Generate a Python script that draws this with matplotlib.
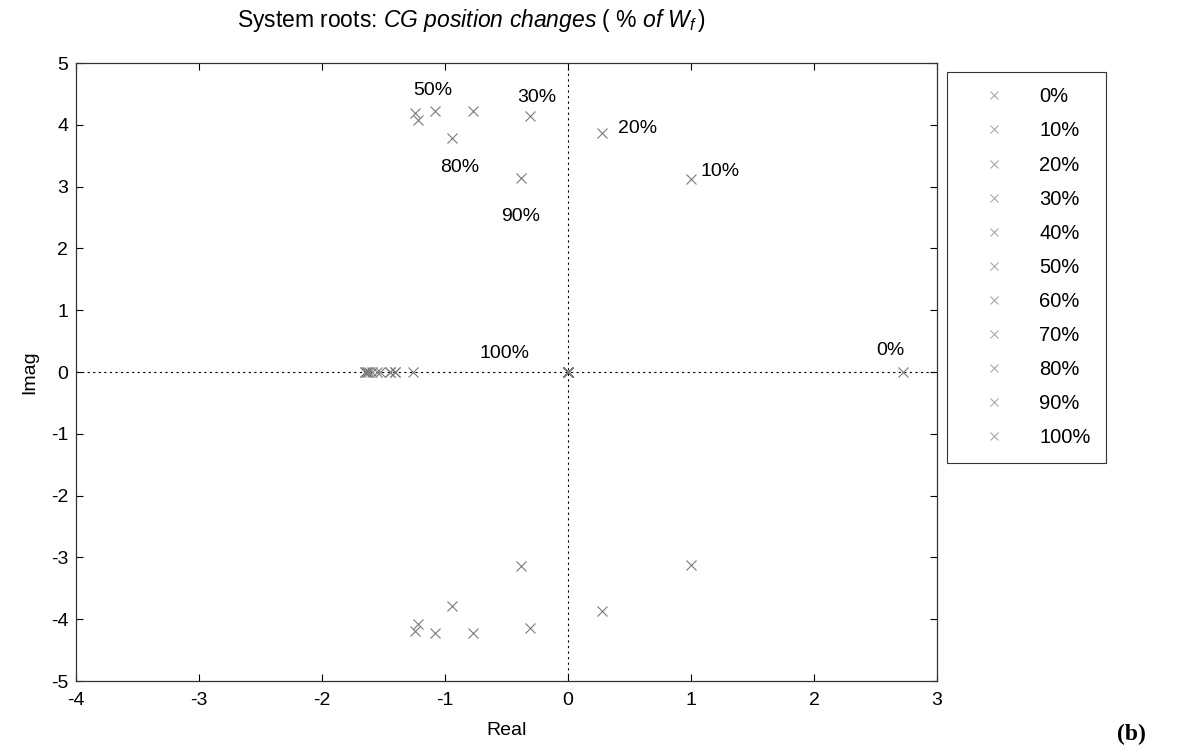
import numpy as np
import matplotlib.pyplot as plt

plt.rcParams['font.family'] = ['Liberation Sans', 'DejaVu Sans']
plt.rcParams['mathtext.fontset'] = 'custom'
plt.rcParams['mathtext.rm'] = 'Liberation Sans'
plt.rcParams['mathtext.it'] = 'Liberation Sans:italic'
plt.rcParams['axes.unicode_minus'] = False

# CG position (% of Wf) and the system roots found for each case
cg_pct = [0, 10, 20, 30, 40, 50, 60, 70, 80, 90, 100]
pair_re = [None, 1.00, 0.28, -0.31, -0.77, -1.08, -1.24, -1.22, -0.94, -0.38, None]
pair_im = [None, 3.13, 3.86, 4.14, 4.22, 4.22, 4.19, 4.08, 3.79, 3.14, None]
zero_root = [0.0] * 11
neg_root = [-1.26, -1.41, -1.45, -1.53, -1.59, -1.63, -1.65, -1.62, -1.55, -1.45, -1.41]
extra_real = {0: [2.72, -1.65], 100: [0.0, -1.63]}

# text offsets (pixels) for the annotated cases
label_off = {0: (-12, 22), 10: (29, 7), 20: (35, 5), 30: (7, 19),
             50: (-2, 21), 80: (7, -30), 90: (-1, -39), 100: (-63, 19)}

fig = plt.figure(figsize=(11.85, 7.53), dpi=100)
ax = fig.add_axes([0.0641, 0.0956, 0.7266, 0.8207])

ax.axhline(0, color='black', linestyle=(0, (2, 3)), linewidth=0.8)
ax.axvline(0, color='black', linestyle=(0, (2, 3)), linewidth=0.8)

for i, p in enumerate(cg_pct):
    if pair_re[i] is not None:
        roots = [complex(pair_re[i], pair_im[i]), complex(pair_re[i], -pair_im[i])]
    else:
        roots = [complex(r, 0) for r in extra_real[p]]
    roots += [complex(zero_root[i], 0), complex(neg_root[i], 0)]
    roots = np.array(roots)
    ax.plot(roots.real, roots.imag, linestyle='none', marker='x', markersize=7,
            markeredgewidth=0.8, color='#7a7a7a', label=f'{p}%')
    if p in label_off:
        anchor = roots[0]
        if p == 100:
            anchor = complex(zero_root[i], 0)
        ax.annotate(f'{p}%', (anchor.real, anchor.imag), xytext=label_off[p],
                    textcoords='offset pixels', ha='center', va='center', fontsize=14)

ax.set_xlim(-4, 3)
ax.set_ylim(-5, 5)
ax.set_xticks(range(-4, 4))
ax.set_yticks(range(-5, 6))
ax.tick_params(direction='in', top=True, right=True, labelsize=14, length=5, width=0.8)
ax.tick_params(axis='x', pad=8)
ax.tick_params(axis='y', pad=5.5)
for s in ax.spines.values():
    s.set_linewidth(0.9)
    s.set_color('#333333')
ax.set_xlabel('Real', fontsize=14, labelpad=9)
ax.set_ylabel('Imag', fontsize=14, labelpad=9)

fig.text(0.398, 0.973, r'System roots: $\mathit{CG\ position\ changes\ (\ \%\ of\ W_f\,)}$',
         ha='center', va='center', fontsize=16.5)

leg = ax.legend(loc='upper left', bbox_to_anchor=(0.799, 0.904), bbox_transform=fig.transFigure,
                borderaxespad=0, fontsize=14.5, frameon=True, fancybox=False, edgecolor='black',
                labelspacing=0.75, handletextpad=0.65, borderpad=0.75, handlelength=3.2)
leg.get_frame().set_linewidth(0.8)
for h in leg.legend_handles:
    h.set_color('#a8a8a8')
    h.set_markersize(6)

fig.text(0.955, 0.024, '(b)', family='Liberation Serif', fontweight='bold',
         fontsize=17, ha='center', va='center')

fig.savefig('out.png', dpi=100)
